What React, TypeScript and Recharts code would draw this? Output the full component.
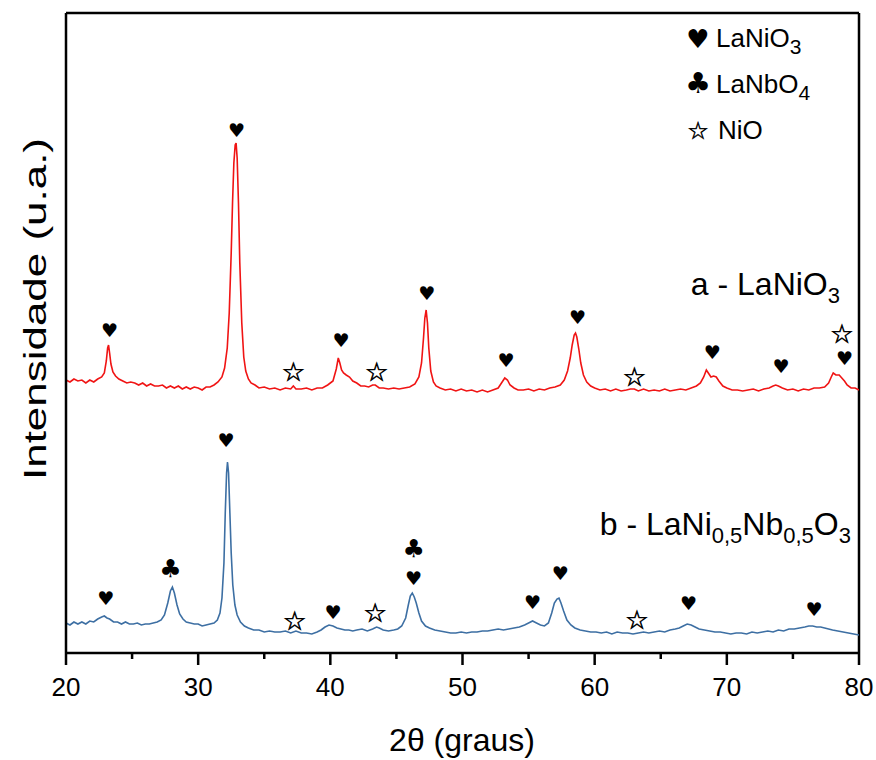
import { ComposedChart, Line, Scatter, XAxis, YAxis, ReferenceLine, Customized } from "recharts";

// 2θ (degrees) and intensity (arbitrary units)
const redTheta = [
  20.0, 20.3, 20.6, 20.9, 21.2, 21.5, 21.8, 22.1, 22.4, 22.7, 22.9, 23.05, 23.15, 23.22, 23.3, 23.4, 23.55, 23.75,
  24.0, 24.3, 24.6, 24.9, 25.2, 25.5, 25.8, 26.1, 26.4, 26.7, 27.0, 27.3, 27.6, 27.9, 28.2, 28.5, 28.8, 29.1,
  29.4, 29.7, 30.0, 30.3, 30.6, 30.9, 31.2, 31.5, 31.8, 32.0, 32.2, 32.35, 32.5, 32.6, 32.7, 32.8, 32.87, 32.95,
  33.05, 33.15, 33.3, 33.45, 33.6, 33.8, 34.0, 34.3, 34.6, 35.0, 35.4, 35.8, 36.2, 36.6, 37.0, 37.2, 37.4, 37.8,
  38.2, 38.6, 39.0, 39.4, 39.8, 40.2, 40.45, 40.6, 40.72, 40.85, 41.0, 41.2, 41.45, 41.7, 42.0, 42.3, 42.6, 42.9,
  43.2, 43.4, 43.7, 44.0, 44.4, 44.8, 45.2, 45.6, 46.0, 46.4, 46.7, 46.9, 47.05, 47.15, 47.25, 47.35, 47.45, 47.6,
  47.8, 48.0, 48.3, 48.7, 49.1, 49.5, 49.9, 50.3, 50.7, 51.1, 51.5, 51.9, 52.3, 52.7, 52.95, 53.2, 53.4, 53.6,
  53.9, 54.2, 54.6, 55.0, 55.4, 55.8, 56.2, 56.6, 57.0, 57.4, 57.7, 57.95, 58.15, 58.3, 58.45, 58.55, 58.65, 58.8,
  58.95, 59.15, 59.4, 59.7, 60.0, 60.4, 60.8, 61.2, 61.6, 62.0, 62.4, 62.7, 63.0, 63.3, 63.7, 64.1, 64.5, 64.9,
  65.3, 65.7, 66.1, 66.5, 66.9, 67.3, 67.7, 68.0, 68.25, 68.45, 68.6, 68.8, 69.0, 69.2, 69.4, 69.7, 70.0, 70.4,
  70.8, 71.2, 71.6, 72.0, 72.4, 72.8, 73.2, 73.5, 73.7, 73.9, 74.2, 74.6, 75.0, 75.4, 75.8, 76.2, 76.6, 77.0,
  77.4, 77.7, 77.9, 78.05, 78.25, 78.5, 78.7, 78.9, 79.1, 79.4, 79.7, 80.0,
];
const redCounts = [
  273, 271, 274, 272, 273, 270, 273, 271, 274, 276, 280, 292, 305, 308, 300, 289, 281, 277,
  274, 272, 270, 271, 270, 268, 270, 267, 269, 267, 267, 268, 265, 267, 265, 267, 264, 266,
  264, 266, 265, 263, 266, 266, 268, 271, 276, 285, 305, 340, 400, 450, 490, 508, 510, 495,
  450, 390, 330, 296, 282, 274, 270, 268, 265, 266, 264, 265, 263, 265, 264, 267, 264, 264,
  265, 263, 265, 265, 268, 272, 284, 295, 290, 283, 280, 278, 276, 272, 270, 267, 267, 266,
  268, 268, 265, 265, 264, 265, 264, 265, 266, 269, 276, 290, 315, 335, 343, 330, 305, 282,
  271, 267, 265, 263, 264, 262, 264, 262, 263, 261, 263, 261, 263, 265, 270, 275, 273, 268,
  265, 263, 263, 264, 262, 264, 263, 265, 266, 268, 273, 282, 295, 308, 318, 320, 316, 304,
  290, 278, 271, 267, 265, 263, 264, 262, 264, 262, 263, 264, 264, 262, 264, 262, 263, 262,
  264, 262, 263, 264, 263, 265, 267, 270, 276, 283, 280, 276, 277, 276, 272, 267, 265, 263,
  263, 262, 263, 264, 262, 264, 265, 267, 268, 267, 265, 263, 264, 262, 264, 263, 265, 265,
  266, 270, 276, 280, 278, 278, 275, 272, 268, 265, 265, 263,
];

const blueTheta = [
  20.0, 20.3, 20.6, 20.9, 21.2, 21.5, 21.8, 22.1, 22.4, 22.7, 22.9, 23.1, 23.3, 23.6, 23.9, 24.2, 24.5, 24.8,
  25.1, 25.4, 25.7, 26.0, 26.3, 26.6, 26.9, 27.2, 27.45, 27.7, 27.9, 28.05, 28.2, 28.4, 28.6, 28.85, 29.1, 29.4,
  29.7, 30.0, 30.3, 30.6, 30.9, 31.2, 31.45, 31.65, 31.8, 31.95, 32.05, 32.15, 32.22, 32.3, 32.4, 32.5, 32.62, 32.78,
  32.95, 33.2, 33.5, 33.8, 34.2, 34.6, 35.0, 35.4, 35.8, 36.2, 36.6, 37.0, 37.4, 37.8, 38.2, 38.6, 39.0, 39.3,
  39.6, 39.9, 40.2, 40.5, 40.8, 41.1, 41.4, 41.7, 42.0, 42.4, 42.8, 43.2, 43.5, 43.7, 44.0, 44.4, 44.8, 45.1,
  45.4, 45.7, 45.9, 46.05, 46.2, 46.35, 46.5, 46.7, 46.9, 47.2, 47.5, 47.9, 48.3, 48.7, 49.1, 49.5, 49.9, 50.3,
  50.7, 51.1, 51.5, 51.9, 52.3, 52.7, 53.1, 53.5, 53.9, 54.3, 54.7, 55.0, 55.3, 55.6, 55.9, 56.2, 56.5, 56.75,
  56.95, 57.15, 57.3, 57.45, 57.65, 57.9, 58.2, 58.5, 58.9, 59.3, 59.7, 60.1, 60.5, 60.9, 61.3, 61.7, 62.1, 62.5,
  62.9, 63.3, 63.7, 64.1, 64.5, 64.9, 65.3, 65.7, 66.1, 66.4, 66.7, 67.0, 67.3, 67.6, 67.9, 68.3, 68.7, 69.1,
  69.5, 69.9, 70.3, 70.7, 71.1, 71.5, 71.9, 72.3, 72.7, 73.1, 73.5, 73.9, 74.3, 74.7, 75.1, 75.5, 75.9, 76.2,
  76.5, 76.8, 77.1, 77.4, 77.7, 78.0, 78.4, 78.8, 79.2, 79.6, 80.0,
];
const blueCounts = [
  30, 28, 31, 29, 31, 29, 32, 31, 34, 36, 37, 35, 34, 31, 31, 29, 31, 29,
  29, 30, 28, 29, 29, 30, 31, 33, 38, 50, 62, 66, 60, 48, 39, 34, 31, 30,
  29, 29, 27, 28, 29, 30, 33, 40, 55, 90, 140, 180, 191, 180, 140, 100, 68, 48,
  38, 31, 27, 25, 23, 23, 21, 22, 21, 21, 22, 20, 22, 20, 20, 19, 21, 23,
  26, 28, 27, 25, 24, 23, 23, 22, 23, 24, 22, 24, 26, 25, 23, 22, 23, 24,
  27, 35, 48, 57, 60, 56, 50, 40, 32, 27, 25, 23, 22, 21, 20, 20, 21, 20,
  21, 21, 22, 22, 23, 24, 23, 24, 25, 26, 28, 30, 32, 30, 28, 27, 30, 40,
  50, 54, 55, 50, 42, 33, 28, 25, 23, 22, 21, 21, 20, 21, 19, 21, 20, 20,
  19, 20, 21, 20, 21, 22, 21, 23, 24, 25, 27, 29, 28, 26, 24, 23, 22, 21,
  21, 20, 19, 20, 20, 19, 21, 20, 21, 22, 21, 23, 22, 24, 24, 25, 26, 27,
  27, 26, 26, 25, 24, 23, 22, 21, 20, 19, 18,
];

// phase markers: position, height, symbol
const redMarkTheta = [23.3, 32.9, 37.2, 40.8, 43.5, 47.3, 53.3, 58.7, 63.0, 68.9, 74.1, 78.7, 78.9];
const redMarkY = [323, 523, 281, 313, 281, 360, 293, 336, 276, 301, 287, 319, 295];
const redMarkSym = ["♥", "♥", "☆", "♥", "☆", "♥", "♥", "♥", "☆", "♥", "♥", "☆", "♥"];

const blueMarkTheta = [23.0, 27.9, 32.1, 37.3, 40.2, 43.4, 46.3, 46.3, 55.3, 57.4, 63.2, 67.1, 76.6];
const blueMarkY = [55, 85, 213, 32, 41, 40, 105, 75, 51, 80, 33, 50, 44];
const blueMarkSym = ["♥", "♣", "♥", "☆", "♥", "☆", "♣", "♥", "♥", "♥", "☆", "♥", "♥"];

const xTicks = [20, 25, 30, 35, 40, 45, 50, 55, 60, 65, 70, 75, 80];

const redData = redTheta.map((t, i) => ({ t, i: redCounts[i] }));
const blueData = blueTheta.map((t, i) => ({ t, i: blueCounts[i] }));
const marks = [
  ...redMarkTheta.map((t, k) => ({ t, i: redMarkY[k], sym: redMarkSym[k] })),
  ...blueMarkTheta.map((t, k) => ({ t, i: blueMarkY[k], sym: blueMarkSym[k] })),
];

const FONT = "'Liberation Sans', Arial, sans-serif";
const SYM_FONT = "'DejaVu Sans', sans-serif";
const symSize: Record<string, number> = { "♥": 19, "♣": 25, "☆": 26 };

function MarkShape(props: any) {
  const s = props.payload.sym;
  const star = s === "☆";
  return (
    <text x={props.cx} y={props.cy} textAnchor="middle" dominantBaseline="central"
      fontFamily={SYM_FONT} fontSize={symSize[s]} fill="#000"
      stroke={star ? "#000" : "none"} strokeWidth={star ? 0.6 : 0}>
      {s}
    </text>
  );
}

function AxisTick(props: any) {
  const { x, y, payload } = props;
  const major = payload.value % 10 === 0;
  return (
    <g>
      <line x1={x} y1={y} x2={x} y2={y + (major ? 12 : 6)} stroke="#000" strokeWidth={2.5} />
      {major && (
        <text x={x} y={y + 43} textAnchor="middle" fontFamily={FONT} fontSize={26} fill="#000">
          {payload.value}
        </text>
      )}
    </g>
  );
}

function Annotations() {
  return (
    <g fontFamily={FONT} fill="#000">
      <text x={462} y={751} textAnchor="middle" fontSize={32}>2θ (graus)</text>
      <text transform="rotate(-90)" x={-309} y={46} textAnchor="middle" fontSize={31}
        textLength={342} lengthAdjust="spacingAndGlyphs">Intensidade (u.a.)</text>

      <text x={840} y={295} textAnchor="end" fontSize={32}>
        a - LaNiO<tspan fontSize={22} dy={8}>3</tspan>
      </text>
      <text x={851} y={535} textAnchor="end" fontSize={32}>
        b - LaNi<tspan fontSize={22} dy={8}>0,5</tspan>
        <tspan dy={-8}>Nb</tspan>
        <tspan fontSize={22} dy={8}>0,5</tspan>
        <tspan dy={-8}>O</tspan>
        <tspan fontSize={22} dy={8}>3</tspan>
      </text>

      <text x={698} y={39} textAnchor="middle" dominantBaseline="central" fontFamily={SYM_FONT} fontSize={26}>♥</text>
      <text x={716} y={47} fontSize={26}>LaNiO<tspan fontSize={21} dy={7}>3</tspan></text>
      <text x={698} y={83} textAnchor="middle" dominantBaseline="central" fontFamily={SYM_FONT} fontSize={29}>♣</text>
      <text x={716} y={93} fontSize={26}>LaNbO<tspan fontSize={21} dy={7}>4</tspan></text>
      <text x={698} y={131} textAnchor="middle" dominantBaseline="central" fontFamily={SYM_FONT} fontSize={24}
        stroke="#000" strokeWidth={0.5}>☆</text>
      <text x={718} y={139} fontSize={26}>NiO</text>
    </g>
  );
}

export default function App() {
  return (
    <div style={{ position: "absolute", left: 0, top: 0, background: "#fff" }}>
      <ComposedChart width={876} height={760} margin={{ top: 13, right: 17, bottom: 0, left: 0 }}>
        <XAxis dataKey="t" type="number" domain={[20, 80]} ticks={xTicks} allowDataOverflow
          height={107} tickSize={0} tickMargin={0} tick={<AxisTick />} tickLine={false}
          axisLine={{ stroke: "#000", strokeWidth: 2.5 }} />
        <YAxis dataKey="i" type="number" domain={[0, 640]} width={66} tick={false} tickLine={false}
          axisLine={{ stroke: "#000", strokeWidth: 2.5 }} />
        <ReferenceLine y={640} stroke="#000" strokeWidth={2.5} />
        <ReferenceLine x={80} stroke="#000" strokeWidth={2.5} />
        <Line data={redData} dataKey="i" stroke="#f01414" strokeWidth={1.6} dot={false} isAnimationActive={false} />
        <Line data={blueData} dataKey="i" stroke="#3d6fa3" strokeWidth={1.6} dot={false} isAnimationActive={false} />
        <Scatter data={marks} dataKey="i" shape={<MarkShape />} isAnimationActive={false} />
        <Customized component={<Annotations />} />
      </ComposedChart>
    </div>
  );
}
